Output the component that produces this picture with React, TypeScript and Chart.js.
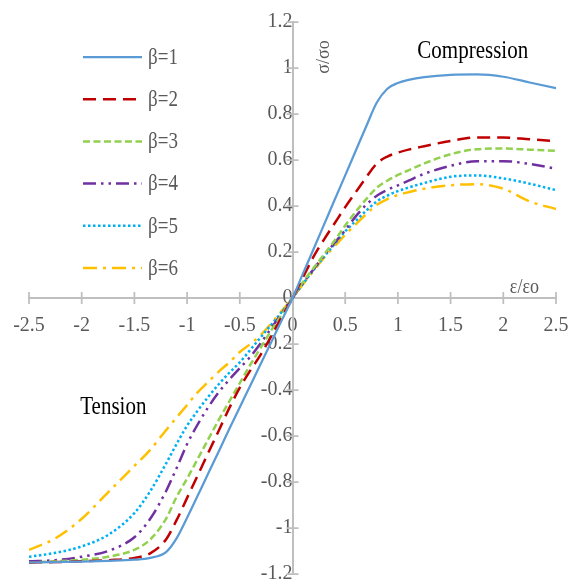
import React, { useEffect, useRef } from "react";
import { Chart, registerables } from "chart.js";

Chart.register(...registerables);

// Normalised strain ε/εo shared by every curve (tension negative, compression positive)
const strain = [
  -2.5, -2.25, -2, -1.75, -1.5, -1.35, -1.2, -1.1, -1, -0.9, -0.8, -0.7, -0.6, -0.5, -0.4, -0.3, -0.2, -0.1,
  0,
  0.1, 0.2, 0.3, 0.4, 0.5, 0.6, 0.7, 0.8, 0.9, 1, 1.1, 1.25, 1.5, 1.75, 2, 2.25, 2.5,
];

// Normalised stress σ/σo for each β
const stressBeta1 = [
  -1.15, -1.148, -1.146, -1.143, -1.138, -1.13, -1.105, -1.045, -0.955, -0.86, -0.763, -0.667, -0.57, -0.475, -0.38, -0.285, -0.19, -0.095,
  0,
  0.107, 0.213, 0.32, 0.427, 0.533, 0.64, 0.747, 0.85, 0.91, 0.935, 0.948, 0.96, 0.97, 0.972, 0.962, 0.937, 0.912,
];
const stressBeta2 = [
  -1.15, -1.148, -1.145, -1.14, -1.13, -1.11, -1.05, -0.966, -0.869, -0.772, -0.674, -0.577, -0.479, -0.39, -0.315, -0.245, -0.165, -0.08,
  0,
  0.09, 0.18, 0.255, 0.325, 0.395, 0.46, 0.525, 0.585, 0.615, 0.632, 0.645, 0.66, 0.683, 0.698, 0.698, 0.69, 0.682,
];
const stressBeta3 = [
  -1.15, -1.145, -1.138, -1.125, -1.095, -1.05, -0.96, -0.865, -0.785, -0.7, -0.615, -0.53, -0.45, -0.37, -0.29, -0.215, -0.14, -0.07,
  0,
  0.07, 0.13, 0.19, 0.25, 0.315, 0.375, 0.43, 0.48, 0.51, 0.535, 0.555, 0.585, 0.625, 0.647, 0.65, 0.645, 0.64,
];
const stressBeta4 = [
  -1.145, -1.14, -1.125, -1.1, -1.04, -0.96, -0.84, -0.74, -0.635, -0.55, -0.475, -0.41, -0.355, -0.305, -0.255, -0.195, -0.13, -0.065,
  0,
  0.065, 0.125, 0.185, 0.24, 0.295, 0.355, 0.405, 0.445, 0.47, 0.49, 0.51, 0.54, 0.575, 0.595, 0.595, 0.583, 0.562,
];
const stressBeta5 = [
  -1.125, -1.108, -1.08, -1.03, -0.935, -0.84, -0.72, -0.635, -0.555, -0.49, -0.43, -0.375, -0.325, -0.28, -0.225, -0.17, -0.115, -0.06,
  0,
  0.062, 0.122, 0.18, 0.235, 0.29, 0.335, 0.38, 0.42, 0.445, 0.465, 0.48, 0.5, 0.527, 0.533, 0.52, 0.497, 0.469,
];
const stressBeta6 = [
  -1.095, -1.045, -0.96, -0.845, -0.73, -0.66, -0.575, -0.52, -0.465, -0.41, -0.365, -0.32, -0.28, -0.235, -0.2, -0.16, -0.11, -0.055,
  0,
  0.06, 0.118, 0.175, 0.225, 0.275, 0.32, 0.365, 0.405, 0.43, 0.448, 0.46, 0.475, 0.49, 0.495, 0.475, 0.42, 0.387,
];

const seriesLabels = ["β=1", "β=2", "β=3", "β=4", "β=5", "β=6"];
const seriesStress = [stressBeta1, stressBeta2, stressBeta3, stressBeta4, stressBeta5, stressBeta6];

// Axis tick values
const xTickValues = [-2.5, -2, -1.5, -1, -0.5, 0, 0.5, 1, 1.5, 2, 2.5];
const yTickValues = [-1.2, -1, -0.8, -0.6, -0.4, -0.2, 0, 0.2, 0.4, 0.6, 0.8, 1, 1.2];

const SERIF = "'Liberation Serif', 'Times New Roman', serif";
const AXIS_GREY = "#BFBFBF";
const LABEL_GREY = "#595959";
const TEXT_STRETCH = 1.18;

const lineStyles = [
  { color: "#5B9BD5", dash: [] as number[], width: 2.25 },
  { color: "#C00000", dash: [13, 7], width: 2.5 },
  { color: "#92D050", dash: [7, 3.5], width: 2.5 },
  { color: "#7030A0", dash: [13, 5, 2.5, 5, 2.5, 5], width: 2.5 },
  { color: "#00B0F0", dash: [2.5, 2.5], width: 2.5 },
  { color: "#FFC000", dash: [14, 6, 3, 6], width: 2.5 },
];

const fmt = (v: number | string) => String(Math.round(Number(v) * 10) / 10);

// Draw text vertically stretched around its anchor point
const tallText = (ctx: any, text: string, x: number, y: number) => {
  ctx.save();
  ctx.translate(x, y);
  ctx.scale(1, TEXT_STRETCH);
  ctx.fillText(text, 0, 0);
  ctx.restore();
};

// Tick marks crossing both axes at every tick
const crossTicks = {
  id: "crossTicks",
  beforeDatasetsDraw(chart: any) {
    const { ctx } = chart;
    const xs = chart.scales.x;
    const ys = chart.scales.y;
    const x0 = xs.getPixelForValue(0);
    const y0 = ys.getPixelForValue(0);
    ctx.save();
    ctx.strokeStyle = AXIS_GREY;
    ctx.lineWidth = 1.75;
    ctx.beginPath();
    xs.ticks.forEach((_t: any, i: number) => {
      const px = xs.getPixelForTick(i);
      ctx.moveTo(px, y0 - 6);
      ctx.lineTo(px, y0 + 6);
    });
    ys.ticks.forEach((_t: any, i: number) => {
      const py = ys.getPixelForTick(i);
      ctx.moveTo(x0 - 6, py);
      ctx.lineTo(x0 + 6, py);
    });
    ctx.stroke();
    ctx.restore();
  },
};

// Region captions and axis names
const captions = {
  id: "captions",
  afterDraw(chart: any) {
    const { ctx } = chart;
    const xs = chart.scales.x;
    const ys = chart.scales.y;
    ctx.save();
    ctx.textAlign = "center";
    ctx.textBaseline = "middle";
    ctx.fillStyle = "#000000";
    ctx.font = `21px ${SERIF}`;
    tallText(ctx, "Compression", xs.getPixelForValue(1.71), ys.getPixelForValue(1.07));
    tallText(ctx, "Tension", xs.getPixelForValue(-1.7), ys.getPixelForValue(-0.474));

    ctx.fillStyle = LABEL_GREY;
    ctx.font = `18px ${SERIF}`;
    tallText(ctx, "ε/εo", xs.getPixelForValue(2.2), ys.getPixelForValue(0.045));

    ctx.translate(xs.getPixelForValue(0.3), ys.getPixelForValue(1.048));
    ctx.rotate(-Math.PI / 2);
    ctx.scale(1, 1.05);
    ctx.fillText("σ/σo", 0, 0);
    ctx.restore();
  },
};

// Vertical key in the upper-left quadrant
const keyPanel = {
  id: "keyPanel",
  afterDraw(chart: any) {
    const { ctx, chartArea } = chart;
    const lineStart = chartArea.left + 54;
    const lineEnd = chartArea.left + 113;
    const textX = chartArea.left + 119;
    const firstRow = chartArea.top + 35;
    const rowGap = 42.2;
    ctx.save();
    chart.data.datasets.forEach((ds: any, i: number) => {
      const y = firstRow + i * rowGap;
      ctx.strokeStyle = ds.borderColor;
      ctx.lineWidth = ds.borderWidth;
      ctx.setLineDash(ds.borderDash || []);
      ctx.beginPath();
      ctx.moveTo(lineStart, y);
      ctx.lineTo(lineEnd, y);
      ctx.stroke();
      ctx.setLineDash([]);
      ctx.fillStyle = LABEL_GREY;
      ctx.font = `19px ${SERIF}`;
      ctx.textAlign = "left";
      ctx.textBaseline = "middle";
      tallText(ctx, ds.label, textX, y + 1);
    });
    ctx.restore();
  },
};

const collapse = (s: any) => {
  s.paddingLeft = 0;
  s.paddingRight = 0;
  s.paddingTop = 0;
  s.paddingBottom = 0;
};

export default function App() {
  const canvasRef = useRef<HTMLCanvasElement>(null);

  useEffect(() => {
    const canvas = canvasRef.current;
    if (!canvas) return;

    const tickFont = { family: SERIF, size: 20 };

    const chart = new Chart(canvas, {
      type: "line",
      data: {
        datasets: seriesStress.map((vals, i) => ({
          label: seriesLabels[i],
          data: strain.map((e, j) => ({ x: e, y: vals[j] })),
          borderColor: lineStyles[i].color,
          borderDash: lineStyles[i].dash,
          borderWidth: lineStyles[i].width,
          pointRadius: 0,
          fill: false,
          cubicInterpolationMode: "monotone" as const,
        })),
      },
      options: {
        animation: false,
        responsive: true,
        maintainAspectRatio: false,
        events: [],
        layout: { padding: { left: 29, right: 17, top: 22, bottom: 9 } },
        plugins: {
          legend: { display: false },
          tooltip: { enabled: false },
        },
        scales: {
          x: {
            type: "linear",
            min: -2.5,
            max: 2.5,
            position: { y: 0 } as any,
            afterBuildTicks: (s: any) => {
              s.ticks = xTickValues.map((v) => ({ value: v }));
            },
            afterFit: (s: any) => {
              s.height = 0;
              collapse(s);
            },
            grid: { display: true, drawOnChartArea: false, drawTicks: false },
            border: { display: true, color: AXIS_GREY, width: 2 },
            ticks: {
              padding: 16,
              color: LABEL_GREY,
              font: tickFont,
              autoSkip: false,
              maxRotation: 0,
              callback: (v: any) => fmt(v),
            },
          },
          y: {
            type: "linear",
            min: -1.2,
            max: 1.2,
            position: { x: 0 } as any,
            afterBuildTicks: (s: any) => {
              s.ticks = yTickValues.map((v) => ({ value: v }));
            },
            afterFit: (s: any) => {
              s.width = 0;
              collapse(s);
            },
            grid: { display: true, drawOnChartArea: false, drawTicks: false },
            border: { display: true, color: AXIS_GREY, width: 2 },
            ticks: {
              padding: 15,
              color: LABEL_GREY,
              font: tickFont,
              autoSkip: false,
              callback: (v: any) => fmt(v),
            },
          },
        },
      },
      plugins: [crossTicks, captions, keyPanel],
    });

    return () => chart.destroy();
  }, []);

  return (
    <div style={{ position: "absolute", left: 0, top: 0, width: 573, height: 583, background: "#ffffff" }}>
      <canvas ref={canvasRef} />
    </div>
  );
}
